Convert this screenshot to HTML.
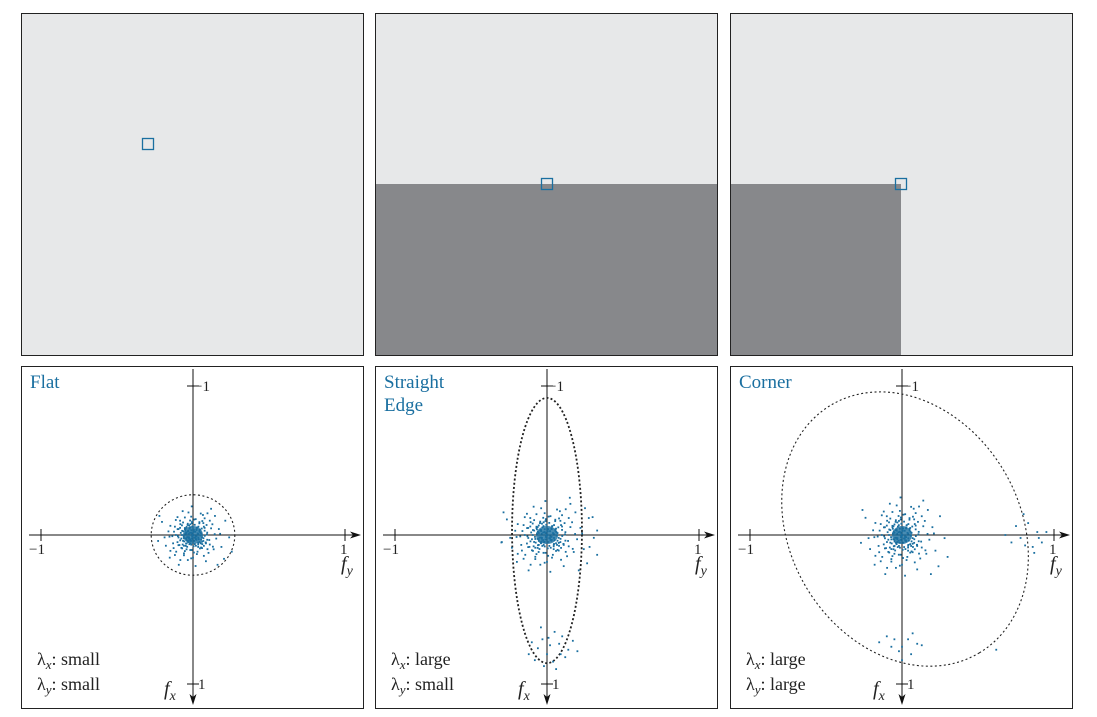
<!DOCTYPE html>
<html><head><meta charset="utf-8">
<style>
body{margin:0;background:#fff;width:1097px;height:717px;overflow:hidden;font-family:"Liberation Serif",serif}
svg{position:absolute;left:0;top:0}
</style></head><body>
<svg id="fig" width="1097" height="717" viewBox="0 0 1097 717">
<g id="top">
 <g>
  <rect x="21.5" y="13.5" width="342" height="342" fill="#e7e8e9" stroke="#222" stroke-width="1"/>
  <rect x="142.5" y="138.5" width="11" height="11" fill="none" stroke="#1a6fa0" stroke-width="1.3"/>
 </g>
 <g>
  <rect x="375.5" y="13.5" width="342" height="342" fill="#e7e8e9" stroke="#222" stroke-width="1"/>
  <rect x="376" y="184" width="341" height="171" fill="#87888b"/>
  <rect x="541.5" y="178.5" width="11" height="11" fill="none" stroke="#1a6fa0" stroke-width="1.3"/>
 </g>
 <g>
  <rect x="730.5" y="13.5" width="342" height="342" fill="#e7e8e9" stroke="#222" stroke-width="1"/>
  <rect x="731" y="184" width="170" height="171" fill="#87888b"/>
  <rect x="895.5" y="178.5" width="11" height="11" fill="none" stroke="#1a6fa0" stroke-width="1.3"/>
 </g>
</g>
<g id="bottom"></g>
</svg>
<script>
// data: gradient samples (fy, fx) in normalized units
const centerCluster=[[0,0],[0.02,0.01],[-0.03,0.02],[0.05,-0.03],[-0.06,-0.04],[0.08,0.05],[-0.09,0.03],[0.04,0.08],[-0.02,-0.09],[0.11,-0.02],[-0.12,0.06],[0.07,0.11],[-0.05,0.12],[0.13,0.08],[-0.14,-0.07],[0.01,-0.13],[0.15,-0.09],[-0.1,-0.12],[0.09,-0.14],[-0.16,0.01],[0.18,0.03],[0.03,0.16],[-0.07,0.17],[0.12,0.15],[-0.19,-0.03],[0.2,-0.05],[0.06,-0.18],[-0.13,0.14],[0.22,0.1],[-0.21,0.09],[0.17,-0.16],[-0.04,0.21],[0.25,-0.12],[-0.24,-0.11],[0.1,0.22],[-0.08,-0.2],[0.28,0.02],[-0.27,0.05],[0.02,0.26],[0.14,-0.22],[-0.18,0.19],[0.3,0.14],[-0.01,-0.24],[0.24,0.2],[-0.26,-0.16],[0.19,0.25],[-0.11,0.25],[0.05,-0.04],[-0.04,0.05],[0.07,0.02],[-0.06,-0.01],[0.03,-0.06],[-0.02,0.07],[0.09,-0.06],[-0.08,0.08],[0.06,0.07],[-0.1,-0.06],[0.11,0.04],[-0.03,-0.08],[0.04,0.1],[0.16,0.12],[-0.15,0.11],[0.13,-0.12],[-0.12,-0.15],[0.21,-0.01],[-0.22,0.02],[0.0,0.19],[0.08,-0.1],[-0.07,0.09],[0.1,0.07]];
const edgeExtra=[[0.05,0.65],[-0.03,0.7],[0.08,0.73],[-0.06,0.76],[0.1,0.68],[0.0,0.8],[-0.1,0.72],[0.14,0.77],[0.04,0.85],[-0.08,0.84],[0.12,0.82],[-0.04,0.62],[0.02,0.74],[0.17,0.71],[-0.12,0.8],[0.06,0.9],[0.2,0.78],[0.01,0.69],[-0.02,0.88],[0.09,0.8],[0.3,-0.12],[0.28,0.08],[-0.3,0.05],[0.33,-0.03],[0.25,-0.18],[0.15,-0.25]];
const cornerExtraX=[[-0.15,0.72],[-0.05,0.7],[0.07,0.66],[0.1,0.73],[-0.02,0.78],[0.0,0.84],[0.13,0.74],[-0.1,0.68],[0.06,0.8],[-0.07,0.75],[0.04,0.7],[0.0,0.75]];
const cornerExtraY=[[0.68,0.0],[0.72,0.05],[0.78,0.02],[0.83,-0.08],[0.86,0.08],[0.89,-0.02],[0.92,0.05],[0.75,-0.06],[0.81,0.07],[0.87,0.12],[0.95,-0.02],[0.9,0.02],[0.8,-0.14],[0.62,0.77]];
const edgeScaleFy=[1.1], cornerScale=[1.0];
const innerScales=[0.45,0.7];
const ellipses=[[0,0,0.275,0.27,0],[0,-0.03,0.23,0.89,0],[0.02,-0.04,0.95,0.77,59]];
function dense(s){let out=[];centerCluster.forEach(p=>out.push(p));innerScales.forEach(k=>centerCluster.forEach(p=>out.push([-p[1]*k,p[0]*k])));return out.map(p=>[p[0]*s[0],p[1]*s[1]]);}
const panels=[
 {x:21,title:["Flat"],lx:"small",ly:"small",pts:dense([0.85,0.8])},
 {x:375,title:["Straight","Edge"],lx:"large",ly:"small",pts:dense([edgeScaleFy[0],0.95]).concat(edgeExtra)},
 {x:730,title:["Corner"],lx:"large",ly:"large",pts:dense([cornerScale[0],1.05]).concat(cornerExtraX,cornerExtraY)}
];
const NS="http://www.w3.org/2000/svg";
const g=document.getElementById('bottom');
function el(t,a,par){const e=document.createElementNS(NS,t);for(const k in a)e.setAttribute(k,a[k]);(par||g).appendChild(e);return e;}
const SX=152,SY=149,Y0=535;
panels.forEach((p,i)=>{
 const pg=el('g',{});
 
 
 const ox=p.x+172;
 const fx=v=>ox+v*SX, fy=v=>Y0+v*SY;
 const fr=el('rect',{x:p.x+0.5,y:366.5,width:342,height:342,fill:'#fff',stroke:'#222','stroke-width':1},pg);
 
 
 const ha=el('line',{x1:p.x+8,y1:Y0,x2:p.x+333,y2:Y0,stroke:'#111','stroke-width':1},pg);
 
 
 el('path',{d:`M${p.x+340},${Y0} l-11,-3.5 l3,3.5 l-3,3.5z`,fill:'#111'},pg);
 const va=el('line',{x1:ox,y1:369,x2:ox,y2:698,stroke:'#111','stroke-width':1},pg);
 
 
 el('path',{d:`M${ox},${705} l-3.5,-11 l3.5,3 l3.5,-3z`,fill:'#111'},pg);
 [-1,1].forEach(v=>{
  el('line',{x1:fx(v),y1:Y0-6,x2:fx(v),y2:Y0+6,stroke:'#111'},pg);
  el('line',{x1:ox-6,y1:fy(v),x2:ox+6,y2:fy(v),stroke:'#111'},pg);
  const t=el('text',{x:fx(v)+(v<0?-12:-5),y:Y0+19,'font-size':15,fill:'#222'},pg);t.textContent=v<0?'−1':'1';
  
  
  const t2=el('text',{x:ox+(v<0?1:5),y:fy(v)+5,'font-size':15,fill:'#222'},pg);t2.textContent=v<0?'−1':'1';
  
  
 });
 const a1=el('text',{x:p.x+320,y:Y0+35,'font-size':20,'font-style':'italic',fill:'#222'},pg);
 a1.innerHTML='f<tspan font-size="14" dy="5">y</tspan>';
 
 
 const a2=el('text',{x:ox-29,y:695,'font-size':20,'font-style':'italic',fill:'#222'},pg);
 a2.innerHTML='f<tspan font-size="14" dy="5">x</tspan>';
 
 
 const e=ellipses[i];
 const ell=el('ellipse',{cx:fx(e[0]),cy:fy(e[1]),rx:e[2]*SX,ry:e[3]*SY,fill:'none',stroke:'#222','stroke-width':i==1?1.8:1.1,'stroke-dasharray':i==1?'2 2.2':'2 2.5',transform:`rotate(${e[4]} ${fx(e[0])} ${fy(e[1])})`},pg);
 
 
 el('ellipse',{cx:ox,cy:Y0,rx:i==1?11:10,ry:9,fill:'#1a6fa0',opacity:0.8},pg);
 p.pts.forEach(q=>{
  const c=el('rect',{x:fx(q[0])-0.9,y:fy(q[1])-0.9,width:1.8,height:1.8,fill:'#1a6fa0'},pg);
  
  
 });
 p.title.forEach((s,k)=>{
  const t=el('text',{x:p.x+9,y:388+k*23,'font-size':19,fill:'#1a6fa0'},pg);t.textContent=s;
  
  
 });
 [['x',p.lx,665],['y',p.ly,690]].forEach(r=>{
  const t=el('text',{x:p.x+16,y:r[2],'font-size':18,fill:'#222'},pg);
  t.innerHTML=`λ<tspan font-size="13" dy="4" font-style="italic">${r[0]}</tspan><tspan dy="-4">: ${r[1]}</tspan>`;
  
  
 });
});
</script>
</body></html>
